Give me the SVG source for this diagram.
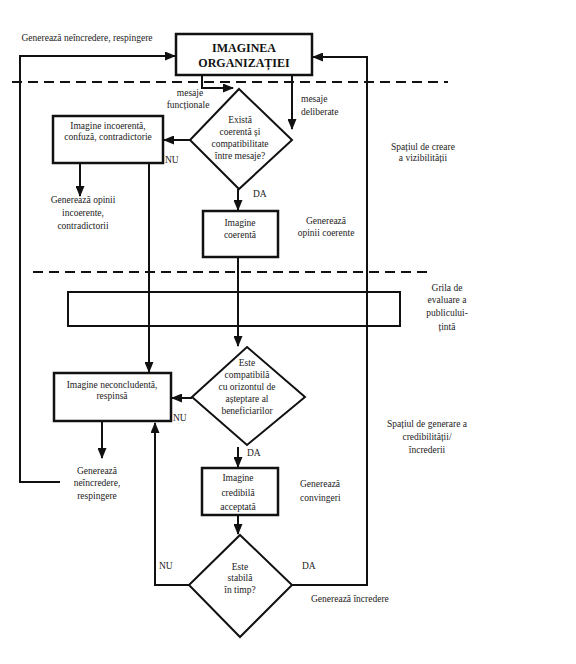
<svg xmlns="http://www.w3.org/2000/svg" width="576" height="664" viewBox="0 0 576 664" font-family="'Liberation Serif', 'DejaVu Serif', serif">
<defs>
<marker id="ah" markerUnits="userSpaceOnUse" markerWidth="11" markerHeight="9" refX="10" refY="4.5" orient="auto"><path d="M0,0 L11,4.5 L0,9 z" fill="#111"/></marker>
<style>
text{font-family:'Liberation Serif','Times New Roman',serif;font-size:9.5px;fill:#222}
.c{text-anchor:middle}
.b{font-weight:bold;font-size:12px;fill:#111}
.box{fill:#fff;stroke:#111;stroke-width:2.5}
.dia{fill:#fff;stroke:#111;stroke-width:2}
.arr{fill:none;stroke:#111;stroke-width:2;marker-end:url(#ah)}
.dash{fill:none;stroke:#111;stroke-width:2.2;stroke-dasharray:10 6}
</style>
</defs>
<rect width="576" height="664" fill="#fff"/>
<g id="zones">
<path class="dash" d="M12,82 L448,82"/>
<path class="dash" d="M33,272 L428,272"/>
<rect id="grila" x="68" y="292" width="332" height="34" fill="none" stroke="#111" stroke-width="2"/>
</g>
<g id="connectors">
<path class="arr" d="M60,482 L20,482 L20,56 L175,56"/>
<path class="arr" d="M292,585 L367,585 L367,57 L313,57"/>
<path class="arr" d="M189,585 L155,585 L155,423"/>
<path class="arr" d="M202,76 L202,88 L233,88"/>
<path class="arr" d="M292,76 L292,129"/>
<path class="arr" d="M190,140 L164,140"/>
<path class="arr" d="M80,164 L80,196"/>
<path class="arr" d="M149,164 L149,372"/>
<path class="arr" d="M238,189 L238,210"/>
<path class="arr" d="M238,258 L238,346"/>
<path class="arr" d="M192,398 L172,398"/>
<path class="arr" d="M102,422 L102,458"/>
<path class="arr" d="M238,447 L238,467"/>
<path class="arr" d="M238,516 L238,534"/>
</g>
<g id="imaginea">
<rect class="box" x="176" y="34" width="136" height="41"/>
<text class="c b" x="244" y="52">IMAGINEA</text>
<text class="c b" x="244" y="67">ORGANIZAȚIEI</text>
</g>
<g id="decizie1">
<path class="dia" d="M239,89 L292,140 L239,189 L190,140 z"/>
<text class="c" x="240" y="123">Există</text>
<text class="c" x="240" y="135">coerentă și</text>
<text class="c" x="240" y="147">compatibilitate</text>
<text class="c" x="240" y="159">între mesaje?</text>
</g>
<g id="incoerenta">
<rect class="box" x="53" y="116" width="110" height="47"/>
<text class="c" x="108" y="129">Imagine incoerentă,</text>
<text class="c" x="108" y="140">confuză, contradictorie</text>
</g>
<g id="coerenta">
<rect class="box" x="203" y="211" width="75" height="46"/>
<text class="c" x="240" y="226">Imagine</text>
<text class="c" x="240" y="238">coerentă</text>
</g>
<g id="decizie2">
<path class="dia" d="M247,347 L305,397 L247,445 L192,397 z"/>
<text class="c" x="247" y="366">Este</text>
<text class="c" x="247" y="378">compatibilă</text>
<text class="c" x="247" y="390">cu orizontul de</text>
<text class="c" x="247" y="402">așteptare al</text>
<text class="c" x="247" y="414">beneficiarilor</text>
</g>
<g id="neconcludenta">
<rect class="box" x="54" y="373" width="117" height="48"/>
<text class="c" x="112" y="388">Imagine neconcludentă,</text>
<text class="c" x="112" y="399">respinsă</text>
</g>
<g id="credibila">
<rect class="box" x="202" y="468" width="76" height="47"/>
<text class="c" x="238" y="481">Imagine</text>
<text class="c" x="238" y="496">credibilă</text>
<text class="c" x="238" y="510">acceptată</text>
</g>
<g id="decizie3">
<path class="dia" d="M240,535 L292,585 L240,637 L189,585 z"/>
<text class="c" x="240" y="570">Este</text>
<text class="c" x="240" y="581">stabilă</text>
<text class="c" x="240" y="593">în timp?</text>
</g>
<g id="labels">
<text class="c" x="87" y="41">Generează neîncredere, respingere</text>
<text class="c" x="190" y="96">mesaje</text>
<text class="c" x="188" y="108">funcționale</text>
<text x="301" y="102">mesaje</text>
<text x="301" y="115">deliberate</text>
<text x="165" y="163">NU</text>
<text x="253" y="197">DA</text>
<text class="c" x="83" y="203">Generează opinii</text>
<text class="c" x="83" y="216">incoerente,</text>
<text class="c" x="83" y="229">contradictorii</text>
<text class="c" x="326" y="224">Generează</text>
<text class="c" x="326" y="236">opinii coerente</text>
<text class="c" x="423" y="150">Spațiul de creare</text>
<text class="c" x="423" y="161">a vizibilității</text>
<text class="c" x="447" y="291">Grila de</text>
<text class="c" x="447" y="303">evaluare a</text>
<text class="c" x="447" y="316">publicului-</text>
<text class="c" x="447" y="330">țintă</text>
<text x="173" y="421">NU</text>
<text x="247" y="456">DA</text>
<text class="c" x="97" y="474">Generează</text>
<text class="c" x="97" y="486">neîncredere,</text>
<text class="c" x="97" y="499">respingere</text>
<text x="300" y="487">Generează</text>
<text x="300" y="501">convingeri</text>
<text class="c" x="427" y="427">Spațiul de generare a</text>
<text class="c" x="427" y="440">credibilității/</text>
<text class="c" x="427" y="453">încrederii</text>
<text x="159" y="569">NU</text>
<text x="302" y="569">DA</text>
<text x="311" y="602">Generează încredere</text>
</g>
</svg>
